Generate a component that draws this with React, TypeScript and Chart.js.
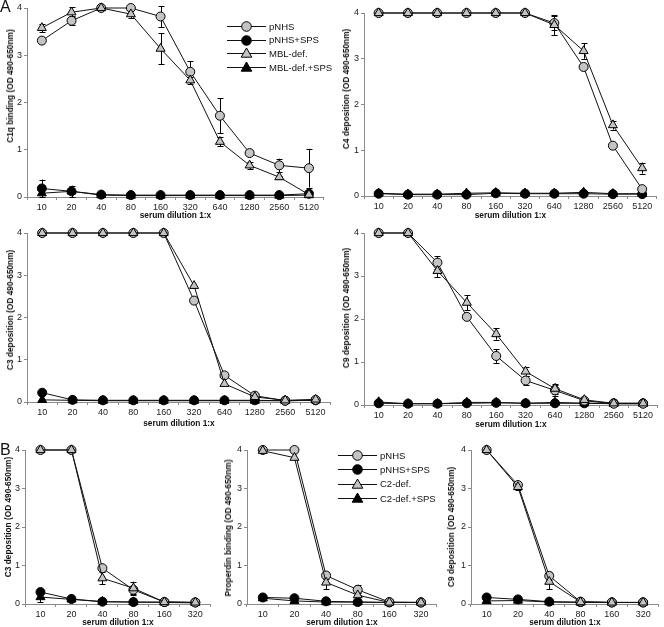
import React, { useEffect, useRef } from "react";
import { Chart, registerables } from "chart.js";
Chart.register(...registerables);

// ---------- categories ----------
const dilutionsA = ["10", "20", "40", "80", "160", "320", "640", "1280", "2560", "5120"];
const dilutionsB = ["10", "20", "40", "80", "160", "320"];
const yTickValues = [0, 1, 2, 3, 4];

// ---------- Panel A1: C1q binding ----------
const c1qPNHS = [3.31, 3.73, 4.0, 4.0, 3.82, 2.65, 1.72, 0.93, 0.67, 0.61];
const c1qPNHSErr = [0, 0.1, 0, 0, 0.22, 0.22, 0.37, 0.04, 0.14, 0.41];
const c1qPNHSSPS = [0.18, 0.12, 0.05, 0.04, 0.04, 0.04, 0.04, 0.04, 0.04, 0.07];
const c1qPNHSSPSErr = [0.19, 0.12, 0, 0, 0, 0, 0, 0, 0, 0];
const c1qMBL = [3.58, 3.91, 4.0, 3.87, 3.14, 2.47, 1.17, 0.67, 0.42, 0.05];
const c1qMBLErr = [0.09, 0.11, 0, 0.08, 0.33, 0.08, 0.1, 0.08, 0.03, 0];
const c1qMBLSPS = [0.08, 0.12, 0.04, 0.03, 0.03, 0.03, 0.03, 0.03, 0.03, 0.04];

// ---------- Panel A2: C4 deposition ----------
const c4PNHS = [4, 4, 4, 4, 4, 4, 3.78, 2.82, 1.1, 0.15];
const c4PNHSErr = [0, 0, 0, 0, 0, 0, 0.15, 0, 0, 0];
const c4PNHSSPS = [0.05, 0.03, 0.03, 0.03, 0.06, 0.05, 0.05, 0.05, 0.04, 0.04];
const c4MBL = [4, 4, 4, 4, 4, 4, 3.74, 3.17, 1.55, 0.61];
const c4MBLErr = [0, 0, 0, 0, 0, 0, 0.22, 0.17, 0.1, 0.12];
const c4MBLSPS = [0.06, 0.04, 0.04, 0.06, 0.07, 0.06, 0.06, 0.08, 0.05, 0.05];

// ---------- Panel A3: C3 deposition ----------
const c3aPNHS = [4, 4, 4, 4, 4, 2.4, 0.63, 0.15, 0.03, 0.05];
const c3aPNHSErr = [0, 0, 0, 0, 0, 0, 0, 0.05, 0, 0];
const c3aPNHSSPS = [0.22, 0.05, 0.04, 0.04, 0.04, 0.04, 0.04, 0.04, 0.03, 0.04];
const c3aMBL = [4, 4, 4, 4, 4, 2.75, 0.43, 0.12, 0.04, 0.06];
const c3aMBLSPS = [0.05, 0.04, 0.03, 0.03, 0.03, 0.03, 0.03, 0.03, 0.03, 0.04];

// ---------- Panel A4: C9 deposition ----------
const c9aPNHS = [4, 4, 3.31, 2.05, 1.14, 0.57, 0.34, 0.1, 0.03, 0.03];
const c9aPNHSErr = [0, 0, 0.15, 0.03, 0.16, 0.1, 0.12, 0.02, 0, 0];
const c9aPNHSSPS = [0.04, 0.03, 0.03, 0.04, 0.05, 0.04, 0.04, 0.04, 0.04, 0.04];
const c9aMBL = [4, 4, 3.12, 2.38, 1.65, 0.78, 0.38, 0.12, 0.04, 0.04];
const c9aMBLErr = [0, 0, 0.14, 0.17, 0.13, 0.1, 0.12, 0.02, 0, 0];
const c9aMBLSPS = [0.07, 0.03, 0.03, 0.06, 0.06, 0.04, 0.06, 0.04, 0.03, 0.03];

// ---------- Panel B1: C3 deposition ----------
const c3bPNHS = [4, 4, 0.93, 0.37, 0.05, 0.04];
const c3bPNHSErr = [0, 0, 0.03, 0.1, 0, 0];
const c3bPNHSSPS = [0.31, 0.13, 0.06, 0.05, 0.05, 0.04];
const c3bC2 = [4, 4, 0.67, 0.41, 0.05, 0.04];
const c3bC2Err = [0, 0, 0.15, 0.17, 0, 0];
const c3bC2SPS = [0.18, 0.12, 0.06, 0.05, 0.04, 0.03];
const c3bC2SPSErr = [0.13, 0, 0, 0.1, 0, 0];

// ---------- Panel B2: Properdin binding ----------
const propPNHS = [4.0, 4.0, 0.74, 0.37, 0.05, 0.04];
const propPNHSErr = [0, 0, 0.1, 0.13, 0, 0];
const propPNHSSPS = [0.17, 0.15, 0.07, 0.05, 0.04, 0.04];
const propPNHSSPSErr = [0.06, 0.03, 0, 0, 0, 0];
const propC2 = [3.98, 3.8, 0.56, 0.23, 0.04, 0.04];
const propC2Err = [0, 0, 0.17, 0.05, 0, 0];
const propC2SPS = [0.15, 0.08, 0.05, 0.05, 0.04, 0.04];

// ---------- Panel B3: C9 deposition ----------
const c9bPNHS = [4.0, 3.09, 0.73, 0.06, 0.04, 0.04];
const c9bPNHSErr = [0, 0.07, 0.1, 0, 0, 0];
const c9bPNHSSPS = [0.17, 0.12, 0.06, 0.05, 0.04, 0.04];
const c9bC2 = [4.0, 3.04, 0.58, 0.05, 0.04, 0.04];
const c9bC2Err = [0, 0.07, 0.2, 0, 0, 0];
const c9bC2SPS = [0.08, 0.09, 0.05, 0.04, 0.04, 0.04];

const legendA = ["pNHS", "pNHS+SPS", "MBL-def.", "MBL-def.+SPS"];
const legendB = ["pNHS", "pNHS+SPS", "C2-def.", "C2-def.+SPS"];

// ---------- styling ----------
const FONT = "'Liberation Sans', Arial, Helvetica, sans-serif";
const GRAY = "#c4c4c4";
const INK = "#111";
const AXIS = "#8a8a8a";
const X_TITLE = "serum dilution 1:x";

type Kind = "grayCircle" | "blackCircle" | "grayTri" | "blackTri";
const KIND_ORDER: Kind[] = ["grayCircle", "blackCircle", "grayTri", "blackTri"];

function styleFor(kind: Kind) {
  const isTri = kind === "grayTri" || kind === "blackTri";
  const fill = kind === "grayCircle" || kind === "grayTri" ? GRAY : "#000";
  const order = kind === "grayTri" ? 1 : kind === "grayCircle" ? 2 : kind === "blackCircle" ? 3 : 4;
  return {
    pointStyle: isTri ? "triangle" : "circle",
    pointRadius: isTri ? 5.2 : 4.5,
    pointBackgroundColor: fill,
    pointBorderColor: "#000",
    pointBorderWidth: 1,
    borderColor: INK,
    borderWidth: 1,
    backgroundColor: fill,
    fill: false,
    tension: 0,
    clip: false as any,
    order,
  };
}

const errorBarPlugin = {
  id: "errorBars",
  beforeDatasetsDraw(chart: any) {
    const { ctx } = chart;
    const yScale = chart.scales.y;
    ctx.save();
    ctx.strokeStyle = "#000";
    ctx.lineWidth = 1;
    chart.data.datasets.forEach((ds: any, i: number) => {
      const errs: number[] | undefined = ds.errors;
      if (!errs) return;
      const meta = chart.getDatasetMeta(i);
      meta.data.forEach((pt: any, j: number) => {
        const e = errs[j];
        if (!e) return;
        const v = ds.data[j];
        const x = Math.round(pt.x) + 0.5;
        const yT = yScale.getPixelForValue(v + e);
        const yB = yScale.getPixelForValue(Math.max(0, v - e));
        ctx.beginPath();
        ctx.moveTo(x, yT);
        ctx.lineTo(x, yB);
        ctx.moveTo(x - 3, Math.round(yT) + 0.5);
        ctx.lineTo(x + 3, Math.round(yT) + 0.5);
        ctx.moveTo(x - 3, Math.round(yB) + 0.5);
        ctx.lineTo(x + 3, Math.round(yB) + 0.5);
        ctx.stroke();
      });
    });
    ctx.restore();
  },
};

interface PanelCfg {
  L: number; T: number; R: number; B: number; xt: number;
  labels: string[];
  names: string[];
  series: number[][];
  errors: (number[] | null)[];
  yTitle: string;
  yTitleX: number; yTitleY: number;
}

const YW = 20; // y-axis box width
const PT = 8; // top padding
const PR = 2; // right padding

function Panel({ cfg }: { cfg: PanelCfg }) {
  const ref = useRef<HTMLCanvasElement>(null);
  const left = cfg.L - YW;
  const top = cfg.T - PT;
  const width = cfg.R - cfg.L + YW + PR;
  const height = Math.round(cfg.xt + 5) - top;
  const XH = height - PT - (cfg.B - cfg.T);

  useEffect(() => {
    const datasets = cfg.series.map((data, i) => ({
      label: cfg.names[i],
      data,
      errors: cfg.errors[i] || undefined,
      ...styleFor(KIND_ORDER[i]),
    }));
    const chart = new Chart(ref.current as HTMLCanvasElement, {
      type: "line",
      data: { labels: cfg.labels, datasets: datasets as any },
      plugins: [errorBarPlugin as any],
      options: {
        animation: false,
        responsive: false,
        devicePixelRatio: 1,
        events: [],
        layout: { padding: { top: PT, right: PR, left: 0, bottom: 0 } },
        plugins: { legend: { display: false }, tooltip: { enabled: false } },
        scales: {
          x: {
            type: "category",
            offset: true,
            grid: { offset: true, drawOnChartArea: false, drawTicks: true, tickLength: 3, color: AXIS },
            border: { display: true, color: AXIS, width: 1 },
            ticks: { autoSkip: false, maxRotation: 0, padding: 2, color: "#222", font: { family: FONT, size: 9 } },
            title: { display: true, text: X_TITLE, color: INK, padding: 0, font: { family: FONT, size: 8.3, weight: "bold" } },
            afterFit: (s: any) => { s.height = XH; },
          },
          y: {
            type: "linear",
            min: 0,
            max: 4,
            afterBuildTicks: (s: any) => { s.ticks = yTickValues.map((v) => ({ value: v })); },
            grid: { drawOnChartArea: false, drawTicks: true, tickLength: 3, color: AXIS },
            border: { display: true, color: AXIS, width: 1 },
            ticks: { padding: 2, color: "#222", font: { family: FONT, size: 9 } },
            afterFit: (s: any) => { s.width = YW; },
          },
        },
      } as any,
    });
    return () => chart.destroy();
  }, []);

  return (
    <>
      <canvas
        ref={ref}
        width={width}
        height={height}
        style={{ position: "absolute", left, top, width, height }}
      />
      <div
        style={{
          position: "absolute",
          left: cfg.yTitleX,
          top: cfg.yTitleY,
          transform: "translate(-50%, -50%) rotate(-90deg)",
          whiteSpace: "nowrap",
          font: `bold 8.3px ${FONT}`,
          color: INK,
        }}
      >
        {cfg.yTitle}
      </div>
    </>
  );
}

function Legend({ left, top, gap, names }: { left: number; top: number; gap: number; names: string[] }) {
  return (
    <>
      {names.map((name, i) => {
        const kind = KIND_ORDER[i];
        const fill = kind === "grayCircle" || kind === "grayTri" ? GRAY : "#000";
        const isTri = kind === "grayTri" || kind === "blackTri";
        const cy = top + i * gap;
        return (
          <div key={name} style={{ position: "absolute", left, top: cy - 7, height: 14, display: "flex", alignItems: "center" }}>
            <svg width={40} height={14} style={{ display: "block" }}>
              <line x1={0} y1={7.5} x2={39} y2={7.5} stroke={INK} strokeWidth={1} />
              {isTri ? (
                <polygon points="19.5,2 24.8,11.2 14.2,11.2" fill={fill} stroke="#000" strokeWidth={1} />
              ) : (
                <circle cx={19.5} cy={7.5} r={4.8} fill={fill} stroke="#000" strokeWidth={1} />
              )}
            </svg>
            <span style={{ marginLeft: 2, font: `9.5px ${FONT}`, color: INK, whiteSpace: "nowrap" }}>{name}</span>
          </div>
        );
      })}
    </>
  );
}

const panels: PanelCfg[] = [
  {
    L: 27, T: 8, R: 328, B: 197, xt: 216, labels: dilutionsA, names: legendA,
    series: [c1qPNHS, c1qPNHSSPS, c1qMBL, c1qMBLSPS],
    errors: [c1qPNHSErr, c1qPNHSSPSErr, c1qMBLErr, null],
    yTitle: "C1q binding (OD 490-650nm)", yTitleX: 10, yTitleY: 86,
  },
  {
    L: 364, T: 13, R: 661, B: 196, xt: 216, labels: dilutionsA, names: legendA,
    series: [c4PNHS, c4PNHSSPS, c4MBL, c4MBLSPS],
    errors: [c4PNHSErr, null, c4MBLErr, null],
    yTitle: "C4 deposition (OD 490-650nm)", yTitleX: 346, yTitleY: 89,
  },
  {
    L: 27, T: 233, R: 335, B: 402, xt: 424, labels: dilutionsA, names: legendA,
    series: [c3aPNHS, c3aPNHSSPS, c3aMBL, c3aMBLSPS],
    errors: [c3aPNHSErr, null, null, null],
    yTitle: "C3 deposition (OD 490-650nm)", yTitleX: 10, yTitleY: 310,
  },
  {
    L: 364, T: 233, R: 662, B: 405, xt: 425, labels: dilutionsA, names: legendA,
    series: [c9aPNHS, c9aPNHSSPS, c9aMBL, c9aMBLSPS],
    errors: [c9aPNHSErr, null, c9aMBLErr, null],
    yTitle: "C9 deposition (OD 490-650nm)", yTitleX: 346, yTitleY: 308,
  },
  {
    L: 25, T: 450, R: 215, B: 604, xt: 623, labels: dilutionsB, names: legendB,
    series: [c3bPNHS, c3bPNHSSPS, c3bC2, c3bC2SPS],
    errors: [c3bPNHSErr, null, c3bC2Err, c3bC2SPSErr],
    yTitle: "C3 deposition (OD 490-650nm)", yTitleX: 8, yTitleY: 517,
  },
  {
    L: 247, T: 450, R: 441, B: 604, xt: 623, labels: dilutionsB, names: legendB,
    series: [propPNHS, propPNHSSPS, propC2, propC2SPS],
    errors: [propPNHSErr, propPNHSSPSErr, propC2Err, null],
    yTitle: "Properdin binding (OD 490-650nm)", yTitleX: 228, yTitleY: 528,
  },
  {
    L: 471, T: 450, R: 663, B: 604, xt: 623, labels: dilutionsB, names: legendB,
    series: [c9bPNHS, c9bPNHSSPS, c9bC2, c9bC2SPS],
    errors: [c9bPNHSErr, null, c9bC2Err, null],
    yTitle: "C9 deposition (OD 490-650nm)", yTitleX: 451, yTitleY: 527,
  },
];

export default function App() {
  return (
    <div
      style={{
        position: "fixed",
        left: 0,
        top: 0,
        width: 664,
        height: 627,
        background: "#fff",
        overflow: "hidden",
      }}
    >
      {panels.map((p, i) => (
        <Panel key={i} cfg={p} />
      ))}
      <Legend left={227} top={26} gap={13.7} names={legendA} />
      <Legend left={338} top={455} gap={14.4} names={legendB} />
      <div style={{ position: "absolute", left: 0, top: -2, font: `16px ${FONT}`, color: INK }}>A</div>
      <div style={{ position: "absolute", left: 0, top: 441, font: `16px ${FONT}`, color: INK }}>B</div>
    </div>
  );
}
